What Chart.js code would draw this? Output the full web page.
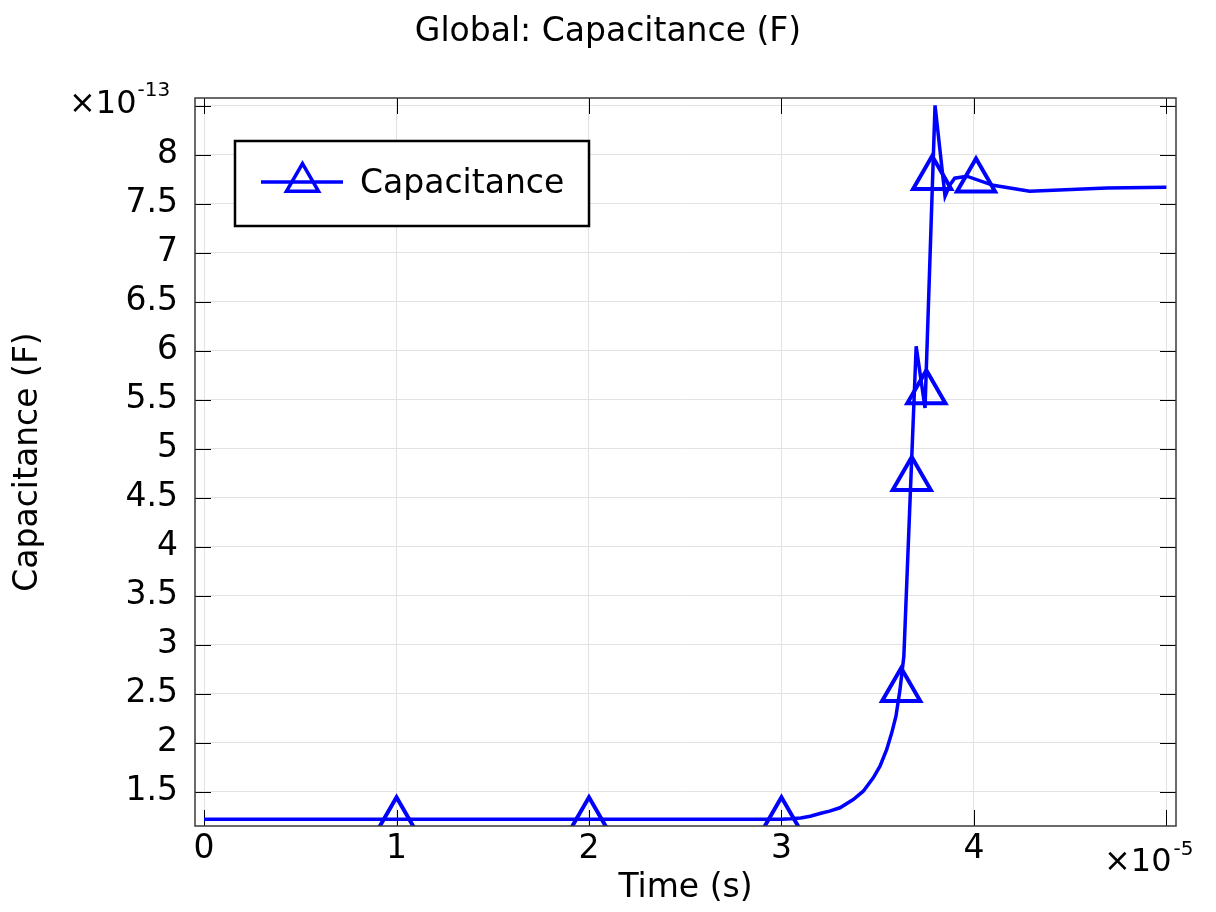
<!DOCTYPE html>
<html>
<head>
<meta charset="utf-8">
<title>Global: Capacitance (F)</title>
<script src="https://cdn.jsdelivr.net/npm/chart.js@4.4.1/dist/chart.umd.min.js"></script>
<style>
  html, body { margin: 0; padding: 0; background: #ffffff; }
  #wrap { width: 1216px; height: 912px; position: relative; }
</style>
</head>
<body>
<div id="wrap"><canvas id="chart"></canvas></div>
<script>
// Axis exponents: time is stored in units of 1e-5 s, capacitance in units of 1e-13 F
const TIME_EXPONENT = '-5';
const CAP_EXPONENT = '-13';

// Capacitance curve
const timeValues = [0, 1, 2, 3, 3.05, 3.1, 3.15, 3.2, 3.25, 3.304, 3.373, 3.425, 3.477, 3.512, 3.547, 3.573, 3.595,
                    3.616, 3.636, 3.700, 3.746, 3.798, 3.850, 3.875, 3.900, 3.963, 4.100, 4.290, 4.690, 5.0];
const capValues  = [1.217, 1.217, 1.217, 1.218, 1.221, 1.230, 1.248, 1.275, 1.300, 1.334, 1.418, 1.503, 1.640, 1.758, 1.929, 2.099, 2.268,
                    2.540, 2.880, 6.044, 5.415, 8.503, 7.575, 7.690, 7.760, 7.780, 7.687, 7.626, 7.660, 7.666];

// Triangle markers placed along the curve
const markerTimes = [1, 2, 3, 3.622, 3.677, 3.753, 3.783, 4.011];
const markerCaps  = [1.217, 1.217, 1.217, 2.535, 4.690, 5.574, 7.761, 7.735];

// Tick values and their labels (the last ones make room for the exponent labels)
const xTickValues = [0, 1, 2, 3, 4, 5];
const xTickLabels = ['0', '1', '2', '3', '4', ''];
const yTickValues = [1.5, 2, 2.5, 3, 3.5, 4, 4.5, 5, 5.5, 6, 6.5, 7, 7.5, 8, 8.5];
const yTickLabels = ['1.5', '2', '2.5', '3', '3.5', '4', '4.5', '5', '5.5', '6', '6.5', '7', '7.5', '8', ''];

const seriesName = 'Capacitance';
const FONT = 'DejaVu Sans';
const FONT_SIZE = 33;
const BLUE = '#0000ff';

const curvePoints = timeValues.map((t, i) => ({ x: t, y: capValues[i] }));
const markerPoints = markerTimes.map((t, i) => ({ x: t, y: markerCaps[i] }));

function triangle(ctx, cx, cy, r) {
  ctx.beginPath();
  for (let k = 0; k < 3; k++) {
    const a = k * 2 * Math.PI / 3;
    const px = cx + Math.sin(a) * r, py = cy - Math.cos(a) * r;
    if (k === 0) ctx.moveTo(px, py); else ctx.lineTo(px, py);
  }
  ctx.closePath();
}

// Inward tick marks on all four sides, frame, exponent labels and legend box
const plotDecor = {
  id: 'plotDecor',
  beforeDatasetsDraw(chart) {
    const { ctx, chartArea: a, scales: { x, y } } = chart;
    ctx.save();
    ctx.strokeStyle = '#000';
    ctx.lineWidth = 1;
    ctx.beginPath();
    x.ticks.forEach(t => {
      const px = Math.round(x.getPixelForValue(t.value)) + 0.5;
      ctx.moveTo(px, a.bottom); ctx.lineTo(px, a.bottom - 16);
      ctx.moveTo(px, a.top); ctx.lineTo(px, a.top + 16);
    });
    y.ticks.forEach(t => {
      const py = Math.round(y.getPixelForValue(t.value)) + 0.5;
      ctx.moveTo(a.left, py); ctx.lineTo(a.left + 16, py);
      ctx.moveTo(a.right, py); ctx.lineTo(a.right - 16, py);
    });
    ctx.stroke();
    ctx.restore();
  },
  afterDatasetsDraw(chart) {
    const { ctx, chartArea: a } = chart;
    ctx.save();
    ctx.strokeStyle = '#3a3a3a';
    ctx.lineWidth = 1.5;
    ctx.strokeRect(a.left, a.top, a.right - a.left, a.bottom - a.top);
    ctx.restore();
  },
  afterDraw(chart) {
    const { ctx, chartArea: a } = chart;
    ctx.save();
    ctx.fillStyle = '#000';
    ctx.textBaseline = 'alphabetic';
    ctx.textAlign = 'left';

    // Exponent of the y axis, above the axis
    ctx.font = `32px "${FONT}"`;
    const base = '\u00d710';
    let w = ctx.measureText(base).width;
    ctx.fillText(base, 69, 113);
    ctx.font = `20px "${FONT}"`;
    ctx.fillText(CAP_EXPONENT, 69 + w + 1, 96);

    // Exponent of the x axis, at the end of the axis
    ctx.font = `32px "${FONT}"`;
    w = ctx.measureText(base).width;
    ctx.fillText(base, 1104, 871);
    ctx.font = `20px "${FONT}"`;
    ctx.fillText(TIME_EXPONENT, 1104 + w + 2, 855);

    // Legend box
    const bx = a.left + 40, by = a.top + 43, bw = 354, bh = 85;
    ctx.fillStyle = '#fff';
    ctx.fillRect(bx, by, bw, bh);
    ctx.strokeStyle = '#000';
    ctx.lineWidth = 2.5;
    ctx.strokeRect(bx, by, bw, bh);

    const ly = by + 41;
    ctx.strokeStyle = BLUE;
    ctx.lineWidth = 3.5;
    ctx.beginPath();
    ctx.moveTo(bx + 26, ly); ctx.lineTo(bx + 108, ly);
    ctx.stroke();
    triangle(ctx, bx + 67.5, ly, 18.5);
    ctx.stroke();

    ctx.fillStyle = '#000';
    ctx.font = `${FONT_SIZE}px "${FONT}"`;
    ctx.fillText(chart.data.datasets[0].label, bx + 125, by + 52);
    ctx.restore();
  }
};

new Chart(document.getElementById('chart'), {
  type: 'line',
  data: {
    datasets: [
      {
        label: seriesName,
        data: curvePoints,
        borderColor: BLUE,
        borderWidth: 3.5,
        pointRadius: 0,
        pointHoverRadius: 0,
        tension: 0,
        fill: false
      },
      {
        label: seriesName + ' markers',
        data: markerPoints,
        showLine: false,
        pointStyle: 'triangle',
        pointRadius: 22,
        pointHoverRadius: 22,
        pointBorderWidth: 4,
        pointBorderColor: BLUE,
        pointBackgroundColor: 'rgba(0,0,0,0)',
        clip: 0
      }
    ]
  },
  options: {
    responsive: true,
    maintainAspectRatio: false,
    animation: false,
    events: [],
    layout: { padding: 0 },
    plugins: {
      legend: { display: false },
      tooltip: { enabled: false },
      title: {
        display: true,
        text: 'Global: Capacitance (F)',
        color: '#000',
        font: { family: FONT, size: FONT_SIZE, weight: 'normal' },
        padding: { top: 12.5, bottom: 45.9 }
      }
    },
    scales: {
      x: {
        type: 'linear',
        position: 'bottom',
        min: -0.047,
        max: 5.05,
        afterBuildTicks: s => { s.ticks = xTickValues.map(v => ({ value: v })); },
        afterFit: s => { s.height = 86; },
        ticks: {
          color: '#000',
          font: { family: FONT, size: FONT_SIZE },
          padding: 4,
          maxRotation: 0,
          autoSkip: false,
          callback: (v, i) => xTickLabels[i]
        },
        grid: { color: '#e2e2e2', lineWidth: 1, drawTicks: false },
        border: { display: false },
        title: {
          display: true,
          text: 'Time (s)',
          color: '#000',
          font: { family: FONT, size: FONT_SIZE },
          padding: { top: 0, bottom: 4 }
        }
      },
      y: {
        type: 'linear',
        position: 'left',
        min: 1.148,
        max: 8.578,
        afterBuildTicks: s => { s.ticks = yTickValues.map(v => ({ value: v })); },
        afterFit: s => { s.width = 195; },
        ticks: {
          color: '#000',
          font: { family: FONT, size: FONT_SIZE },
          padding: 17,
          autoSkip: false,
          callback: (v, i) => yTickLabels[i]
        },
        grid: { color: '#e2e2e2', lineWidth: 1, drawTicks: false },
        border: { display: false },
        title: {
          display: true,
          text: 'Capacitance (F)',
          color: '#000',
          font: { family: FONT, size: FONT_SIZE },
          padding: { top: 9, bottom: 0 }
        }
      },
      yRight: {
        type: 'linear',
        position: 'right',
        display: true,
        afterFit: s => { s.width = 40; },
        ticks: { display: false },
        grid: { display: false },
        border: { display: false }
      }
    }
  },
  plugins: [plotDecor]
});
</script>
</body>
</html>
